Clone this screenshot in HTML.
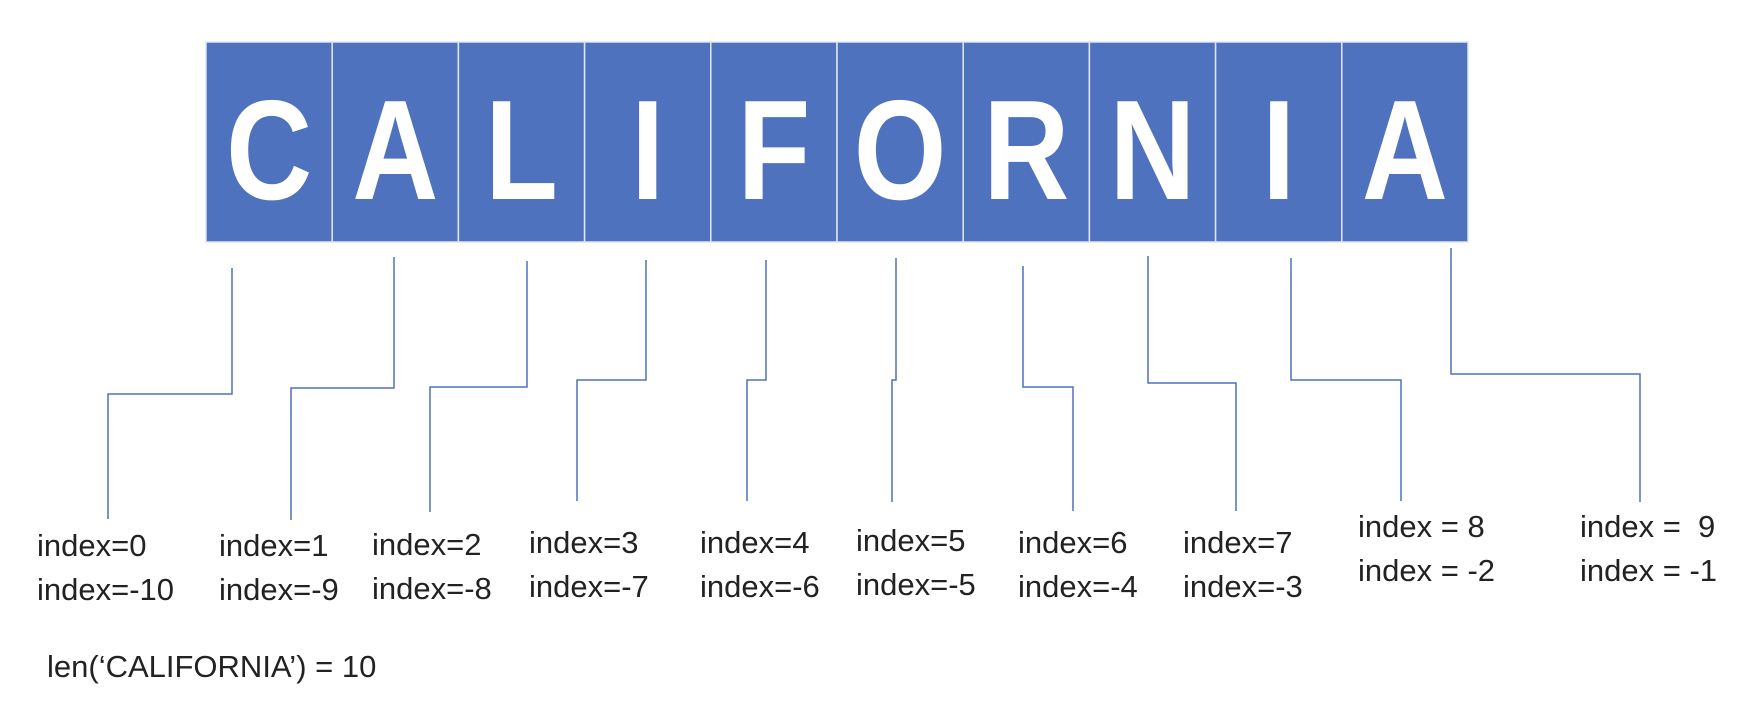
<!DOCTYPE html>
<html><head><meta charset="utf-8"><style>
html,body{margin:0;padding:0;background:#fff;}
svg{display:block;}
text{font-family:"Liberation Sans",sans-serif;}
</style></head><body>
<svg id="c" width="1744" height="704" viewBox="0 0 1744 704">
<g id="boxes"></g>
<g id="lines"></g>
<g id="labels"></g>
<text x="47" y="677" font-size="31" fill="#222">len(‘CALIFORNIA’) = 10</text>
</svg>
<script>
const letters = ["C","A","L","I","F","O","R","N","I","A"];
const posLabels = ["index=0","index=1","index=2","index=3","index=4","index=5","index=6","index=7","index = 8","index =  9"];
const negLabels = ["index=-10","index=-9","index=-8","index=-7","index=-6","index=-5","index=-4","index=-3","index = -2","index = -1"];
// connector geometry
const conTopX = [232,394,527,646,766,896,1023,1148,1291,1451];
const conTopY = [268,257,261,260,260,258,266,256,258,248];
const conElbowY = [394,388,387,380,380,380,387,383,380,374];
const conBotX = [108,291,430,577,747,892,1073,1236,1401,1640];
const conBotY = [519,520,512,501,501,502,511,511,501,502];
const labelX = [37,219,372,529,700,856,1018,1183,1358,1580];
const labelY = [556,556,555,553,553,551,553,553,537,537];

const NS="http://www.w3.org/2000/svg";
const boxes=document.getElementById('boxes'),lines=document.getElementById('lines'),labels=document.getElementById('labels');
const x0=206,cw=126.2,y0=42,h=200;
letters.forEach((ch,i)=>{
  const r=document.createElementNS(NS,'rect');
  r.setAttribute('x',x0+i*cw);r.setAttribute('y',y0);r.setAttribute('width',cw);r.setAttribute('height',h);
  r.setAttribute('fill','#4f72be');r.setAttribute('stroke','#dfe5f3');r.setAttribute('stroke-width','1.5');
  
  
  boxes.appendChild(r);
  const cx=x0+i*cw+cw/2;
  const t=document.createElementNS(NS,'text');
  t.setAttribute('x',0);t.setAttribute('y',199);t.setAttribute('text-anchor','middle');
  t.setAttribute('transform',`translate(${cx},0) scale(0.84,1)`);
  t.setAttribute('font-size','142');t.setAttribute('font-weight','bold');t.setAttribute('fill','#fff');
  t.textContent=ch;
  
  
  boxes.appendChild(t);
});
for(let i=0;i<letters.length;i++){
  const p=document.createElementNS(NS,'polyline');
  p.setAttribute('points',`${conTopX[i]},${conTopY[i]} ${conTopX[i]},${conElbowY[i]} ${conBotX[i]},${conElbowY[i]} ${conBotX[i]},${conBotY[i]}`);
  p.setAttribute('fill','none');p.setAttribute('stroke','#4f72be');p.setAttribute('stroke-width','1.5');
  
  
  lines.appendChild(p);
  const t1=document.createElementNS(NS,'text');
  t1.setAttribute('x',labelX[i]);t1.setAttribute('y',labelY[i]);t1.setAttribute('font-size','31');t1.setAttribute('fill','#222');
  t1.style.whiteSpace='pre';
  t1.textContent=posLabels[i];
  
  
  labels.appendChild(t1);
  const t2=document.createElementNS(NS,'text');
  t2.setAttribute('x',labelX[i]);t2.setAttribute('y',labelY[i]+44);t2.setAttribute('font-size','31');t2.setAttribute('fill','#222');
  t2.textContent=negLabels[i];
  
  
  labels.appendChild(t2);
}
</script>
</body></html>
